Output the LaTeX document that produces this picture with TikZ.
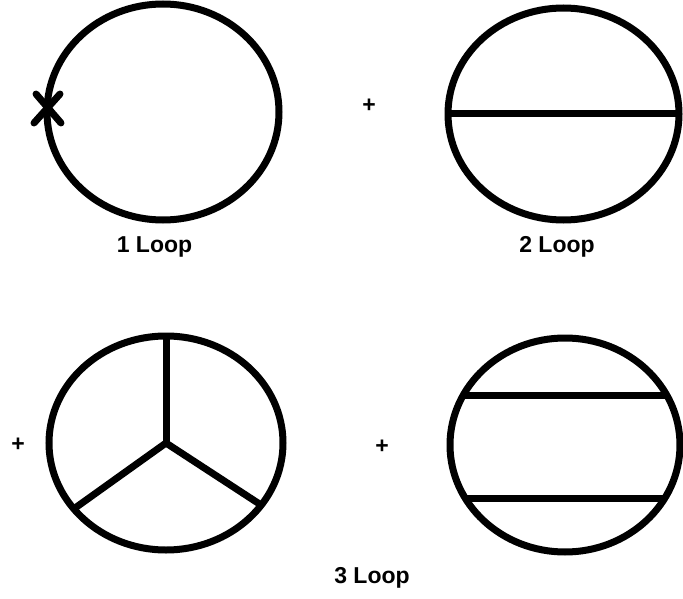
\documentclass[tikz,border=0pt]{standalone}
\usepackage{fontspec}
\setmainfont{Liberation Sans}
\usepackage{tikz}
\usetikzlibrary{calc}

\begin{document}
\begin{tikzpicture}[x=1pt,y=-1pt,
    trazo/.style={line width=7pt,line cap=round},
    etiqueta/.style={font=\fontsize{23}{27}\selectfont\bfseries,inner sep=0pt}]
  \useasboundingbox (0,0) rectangle (683,599);
  \coordinate (C1) at (163,112);
  \coordinate (C2) at (563.5,114);
  \coordinate (C3) at (166,443);
  \coordinate (C4) at (565,445);
  % primer orden
  \draw[trazo] (C1) ellipse [x radius=116,y radius=108];
  \coordinate (X) at (48,108);
  \draw[trazo] ($(X)+(-12,-14)$) -- ($(X)+(13,15)$);
  \draw[trazo] ($(X)+(-14,15)$) -- ($(X)+(12,-14)$);
  \node[etiqueta,anchor=base] (t1) at (154.5,252) {1 Loop};
  \node[etiqueta] (p1) at (369,106) {+};
  % segundo orden
  \draw[trazo] (C2) ellipse [x radius=115.5,y radius=106];
  \draw[trazo,line cap=butt] ($(C2)+(180:115.5 and 106)$) -- ($(C2)+(0:115.5 and 106)$);
  \node[etiqueta,anchor=base] (t2) at (557,252) {2 Loop};
  % tercer orden
  \node[etiqueta] (p2) at (18,445) {+};
  \draw[trazo] (C3) ellipse [x radius=117,y radius=107];
  \draw[trazo,line cap=butt] (C3) -- ($(C3)+(-90:117 and 107)$);
  \draw[trazo,line cap=butt] (C3) -- ($(C3)+(142:117 and 107)$);
  \draw[trazo,line cap=butt] (C3) -- ($(C3)+(35.5:117 and 107)$);
  \node[etiqueta] (p3) at (382,447) {+};
  \draw[trazo] (C4) ellipse [x radius=115,y radius=107];
  \draw[trazo,line cap=butt] ($(C4)+(207.3:115 and 107)$) -- ($(C4)+(-27.3:115 and 107)$);
  \draw[trazo,line cap=butt] ($(C4)+(150.3:115 and 107)$) -- ($(C4)+(29.7:115 and 107)$);
  \node[etiqueta,anchor=base] (t3) at (372,583) {3 Loop};
\end{tikzpicture}
\end{document}
